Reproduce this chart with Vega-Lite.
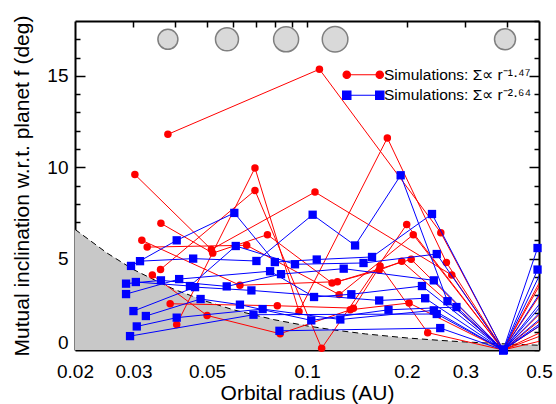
{
  "$schema": "https://vega.github.io/schema/vega-lite/v6.json",
  "width": 464,
  "height": 329,
  "autosize": {"type": "none"},
  "padding": {"left": 75, "top": 21, "right": 17, "bottom": 54},
  "background": "white",
  "config": {
    "view": {"stroke": null},
    "font": "Liberation Sans",
    "axis": {
      "labelFont": "Liberation Sans", "titleFont": "Liberation Sans",
      "labelFontSize": 19, "titleFontSize": 21, "titleFontWeight": "normal",
      "labelColor": "#000", "titleColor": "#000", "tickColor": "#000", "tickWidth": 1.5,
      "domainColor": "#000", "domainWidth": 2, "grid": false, "zindex": 1,
      "labelFlush": false, "labelOverlap": false
    }
  },
  "resolve": {"axis": {"x": "independent", "y": "independent"}},
  "datasets": {
    "bound": [
      {"a": 0.02, "i": 6.6}, {"a": 0.025, "i": 5.3}, {"a": 0.03, "i": 4.4}, {"a": 0.035, "i": 3.8},
      {"a": 0.04, "i": 3.3}, {"a": 0.05, "i": 2.65}, {"a": 0.06, "i": 2.2}, {"a": 0.07, "i": 1.9},
      {"a": 0.08, "i": 1.65}, {"a": 0.1, "i": 1.32}, {"a": 0.12, "i": 1.1}, {"a": 0.15, "i": 0.88},
      {"a": 0.2, "i": 0.66}, {"a": 0.25, "i": 0.53}, {"a": 0.3, "i": 0.44}, {"a": 0.4, "i": 0.33},
      {"a": 0.5, "i": 0.26}
    ],
    "planets": [
      {"a": 0.0381, "rp": 10}, {"a": 0.0574, "rp": 11.5}, {"a": 0.0865, "rp": 12.5},
      {"a": 0.1215, "rp": 12.8}, {"a": 0.395, "rp": 10.5}
    ],
    "sims": [
      {"m": "r147", "s": "r1", "a": 0.0381, "i": 11.8}, {"m": "r147", "s": "r1", "a": 0.109, "i": 15.36},
      {"m": "r147", "s": "r1", "a": 0.253, "i": 6.42}, {"m": "r147", "s": "r1", "a": 0.39, "i": 0},
      {"m": "r147", "s": "r1", "a": 0.65, "i": 7.5},
      {"m": "r147", "s": "r2", "a": 0.0303, "i": 9.6}, {"m": "r147", "s": "r2", "a": 0.0515, "i": 5.5},
      {"m": "r147", "s": "r2", "a": 0.1057, "i": 8.64}, {"m": "r147", "s": "r2", "a": 0.273, "i": 4.1},
      {"m": "r147", "s": "r2", "a": 0.39, "i": 0}, {"m": "r147", "s": "r2", "a": 0.65, "i": 6.02},
      {"m": "r147", "s": "r3", "a": 0.0405, "i": 1.4}, {"m": "r147", "s": "r3", "a": 0.0697, "i": 9.96},
      {"m": "r147", "s": "r3", "a": 0.0946, "i": 2.11}, {"m": "r147", "s": "r3", "a": 0.1746, "i": 11.6},
      {"m": "r147", "s": "r3", "a": 0.263, "i": 4.79}, {"m": "r147", "s": "r3", "a": 0.39, "i": 0},
      {"m": "r147", "s": "r3", "a": 0.65, "i": 7.15},
      {"m": "r147", "s": "r4", "a": 0.0362, "i": 4.41}, {"m": "r147", "s": "r4", "a": 0.0697, "i": 8.73},
      {"m": "r147", "s": "r4", "a": 0.1107, "i": 0.09}, {"m": "r147", "s": "r4", "a": 0.1997, "i": 6.87},
      {"m": "r147", "s": "r4", "a": 0.39, "i": 0}, {"m": "r147", "s": "r4", "a": 0.65, "i": 3.97},
      {"m": "r147", "s": "r5", "a": 0.0363, "i": 6.93}, {"m": "r147", "s": "r5", "a": 0.052, "i": 5.3},
      {"m": "r147", "s": "r5", "a": 0.076, "i": 6.31}, {"m": "r147", "s": "r5", "a": 0.119, "i": 3.66},
      {"m": "r147", "s": "r5", "a": 0.165, "i": 4.36}, {"m": "r147", "s": "r5", "a": 0.193, "i": 4.85},
      {"m": "r147", "s": "r5", "a": 0.39, "i": 0}, {"m": "r147", "s": "r5", "a": 0.65, "i": 3.23},
      {"m": "r147", "s": "r6", "a": 0.0318, "i": 6.0}, {"m": "r147", "s": "r6", "a": 0.0628, "i": 3.54},
      {"m": "r147", "s": "r6", "a": 0.1235, "i": 3.74}, {"m": "r147", "s": "r6", "a": 0.206, "i": 4.96},
      {"m": "r147", "s": "r6", "a": 0.39, "i": 0}, {"m": "r147", "s": "r6", "a": 0.65, "i": 2.65},
      {"m": "r147", "s": "r7", "a": 0.033, "i": 5.63}, {"m": "r147", "s": "r7", "a": 0.0658, "i": 5.73},
      {"m": "r147", "s": "r7", "a": 0.125, "i": 3.03}, {"m": "r147", "s": "r7", "a": 0.209, "i": 6.31},
      {"m": "r147", "s": "r7", "a": 0.39, "i": 0}, {"m": "r147", "s": "r7", "a": 0.65, "i": 1.89},
      {"m": "r147", "s": "r8", "a": 0.0342, "i": 4.1}, {"m": "r147", "s": "r8", "a": 0.05, "i": 1.89},
      {"m": "r147", "s": "r8", "a": 0.083, "i": 0.89}, {"m": "r147", "s": "r8", "a": 0.135, "i": 2.2},
      {"m": "r147", "s": "r8", "a": 0.203, "i": 2.57}, {"m": "r147", "s": "r8", "a": 0.39, "i": 0},
      {"m": "r147", "s": "r8", "a": 0.65, "i": 1.52},
      {"m": "r147", "s": "r9", "a": 0.0387, "i": 2.53}, {"m": "r147", "s": "r9", "a": 0.0814, "i": 2.42},
      {"m": "r147", "s": "r9", "a": 0.138, "i": 2.29}, {"m": "r147", "s": "r9", "a": 0.166, "i": 4.6},
      {"m": "r147", "s": "r9", "a": 0.231, "i": 0.95}, {"m": "r147", "s": "r9", "a": 0.39, "i": 0},
      {"m": "r147", "s": "r9", "a": 0.65, "i": 0.97},
      {"m": "r264", "s": "b1", "a": 0.0314, "i": 4.86}, {"m": "r264", "s": "b1", "a": 0.0454, "i": 5.0},
      {"m": "r264", "s": "b1", "a": 0.0704, "i": 4.87}, {"m": "r264", "s": "b1", "a": 0.104, "i": 7.4},
      {"m": "r264", "s": "b1", "a": 0.1396, "i": 5.72}, {"m": "r264", "s": "b1", "a": 0.1915, "i": 9.56},
      {"m": "r264", "s": "b1", "a": 0.265, "i": 2.67}, {"m": "r264", "s": "b1", "a": 0.39, "i": 0},
      {"m": "r264", "s": "b1", "a": 0.495, "i": 5.58},
      {"m": "r264", "s": "b2", "a": 0.0295, "i": 4.6}, {"m": "r264", "s": "b2", "a": 0.0405, "i": 6.0},
      {"m": "r264", "s": "b2", "a": 0.0604, "i": 7.5}, {"m": "r264", "s": "b2", "a": 0.08, "i": 4.81},
      {"m": "r264", "s": "b2", "a": 0.107, "i": 4.95}, {"m": "r264", "s": "b2", "a": 0.157, "i": 5.09},
      {"m": "r264", "s": "b2", "a": 0.238, "i": 7.44}, {"m": "r264", "s": "b2", "a": 0.39, "i": 0},
      {"m": "r264", "s": "b2", "a": 0.495, "i": 4.4},
      {"m": "r264", "s": "b3", "a": 0.0305, "i": 3.72}, {"m": "r264", "s": "b3", "a": 0.0444, "i": 3.5},
      {"m": "r264", "s": "b3", "a": 0.061, "i": 5.69}, {"m": "r264", "s": "b3", "a": 0.092, "i": 4.69},
      {"m": "r264", "s": "b3", "a": 0.148, "i": 4.76}, {"m": "r264", "s": "b3", "a": 0.246, "i": 5.25},
      {"m": "r264", "s": "b3", "a": 0.39, "i": 0}, {"m": "r264", "s": "b3", "a": 0.65, "i": 8.29},
      {"m": "r264", "s": "b4", "a": 0.0285, "i": 3.63}, {"m": "r264", "s": "b4", "a": 0.0363, "i": 3.81},
      {"m": "r264", "s": "b4", "a": 0.0573, "i": 3.48}, {"m": "r264", "s": "b4", "a": 0.0835, "i": 4.15},
      {"m": "r264", "s": "b4", "a": 0.129, "i": 4.45}, {"m": "r264", "s": "b4", "a": 0.241, "i": 3.81},
      {"m": "r264", "s": "b4", "a": 0.39, "i": 0}, {"m": "r264", "s": "b4", "a": 0.65, "i": 6.23},
      {"m": "r264", "s": "b5", "a": 0.0285, "i": 3.06}, {"m": "r264", "s": "b5", "a": 0.0412, "i": 3.88},
      {"m": "r264", "s": "b5", "a": 0.0774, "i": 4.31}, {"m": "r264", "s": "b5", "a": 0.105, "i": 2.9},
      {"m": "r264", "s": "b5", "a": 0.136, "i": 3.05}, {"m": "r264", "s": "b5", "a": 0.222, "i": 3.5},
      {"m": "r264", "s": "b5", "a": 0.39, "i": 0}, {"m": "r264", "s": "b5", "a": 0.65, "i": 5.1},
      {"m": "r264", "s": "b6", "a": 0.03, "i": 2.13}, {"m": "r264", "s": "b6", "a": 0.046, "i": 3.44},
      {"m": "r264", "s": "b6", "a": 0.068, "i": 3.26}, {"m": "r264", "s": "b6", "a": 0.165, "i": 2.71},
      {"m": "r264", "s": "b6", "a": 0.227, "i": 2.83}, {"m": "r264", "s": "b6", "a": 0.39, "i": 0},
      {"m": "r264", "s": "b6", "a": 0.65, "i": 4.71},
      {"m": "r264", "s": "b7", "a": 0.0327, "i": 1.86}, {"m": "r264", "s": "b7", "a": 0.0478, "i": 2.79},
      {"m": "r264", "s": "b7", "a": 0.0628, "i": 2.48}, {"m": "r264", "s": "b7", "a": 0.103, "i": 1.62},
      {"m": "r264", "s": "b7", "a": 0.176, "i": 2.2}, {"m": "r264", "s": "b7", "a": 0.282, "i": 2.35},
      {"m": "r264", "s": "b7", "a": 0.39, "i": 0}, {"m": "r264", "s": "b7", "a": 0.65, "i": 3.41},
      {"m": "r264", "s": "b8", "a": 0.0307, "i": 1.29}, {"m": "r264", "s": "b8", "a": 0.0405, "i": 1.77},
      {"m": "r264", "s": "b8", "a": 0.0735, "i": 2.24}, {"m": "r264", "s": "b8", "a": 0.126, "i": 1.67},
      {"m": "r264", "s": "b8", "a": 0.241, "i": 2.17}, {"m": "r264", "s": "b8", "a": 0.39, "i": 0},
      {"m": "r264", "s": "b8", "a": 0.65, "i": 4.11},
      {"m": "r264", "s": "b9", "a": 0.0293, "i": 0.76}, {"m": "r264", "s": "b9", "a": 0.069, "i": 1.93},
      {"m": "r264", "s": "b9", "a": 0.246, "i": 1.97}, {"m": "r264", "s": "b9", "a": 0.39, "i": 0},
      {"m": "r264", "s": "b9", "a": 0.65, "i": 2.88},
      {"m": "r264", "s": "b10", "a": 0.0826, "i": 1.05}, {"m": "r264", "s": "b10", "a": 0.252, "i": 1.2},
      {"m": "r264", "s": "b10", "a": 0.39, "i": 0}, {"m": "r264", "s": "b10", "a": 0.65, "i": 2.67}
    ]
  },
  "layer": [
    {
      "data": {"name": "bound"},
      "mark": {"type": "area", "color": "#c8c8c8", "opacity": 1},
      "encoding": {
        "x": {"field": "a", "type": "quantitative", "scale": {"type": "log", "domain": [0.02, 0.5], "nice": false},
          "axis": {"orient": "bottom", "values": [0.02, 0.03, 0.05, 0.1, 0.2, 0.3, 0.5],
            "format": ".2~f", "ticks": false, "labelPadding": 12,
            "title": "Orbital radius (AU)", "titlePadding": 1}},
        "y": {"field": "i", "type": "quantitative", "scale": {"domain": [0, 18], "nice": false, "zero": true},
          "axis": {"orient": "left", "values": [0, 5, 10, 15], "ticks": false,
            "labelOffset": {"condition": {"test": "datum.value === 0", "value": -8}, "value": 0},
            "labelPadding": 7, "title": "Mutual inclination w.r.t. planet f (deg)", "titlePadding": 14}}
      }
    },
    {
      "data": {"name": "bound"},
      "mark": {"type": "line", "color": "#000", "strokeWidth": 1, "strokeDash": [6, 4]},
      "encoding": {
        "x": {"field": "a", "type": "quantitative", "scale": {"type": "log", "domain": [0.02, 0.5], "nice": false}, "axis": null},
        "y": {"field": "i", "type": "quantitative", "scale": {"domain": [0, 18], "nice": false}, "axis": null}
      }
    },
    {
      "data": {"name": "sims"},
      "transform": [{"filter": "datum.m === 'r147'"}],
      "mark": {"type": "line", "strokeWidth": 1, "clip": true},
      "encoding": {
        "x": {"field": "a", "type": "quantitative", "scale": {"type": "log", "domain": [0.02, 0.5], "nice": false}, "axis": null},
        "y": {"field": "i", "type": "quantitative", "scale": {"domain": [0, 18], "nice": false}, "axis": null},
        "detail": {"field": "s"},
        "color": {"field": "m", "type": "nominal",
          "scale": {"domain": ["r147", "r264"], "range": ["#ff0000", "#0000ff"]},
          "legend": {
            "orient": "none", "legendX": 280.5, "legendY": 46, "title": null, "padding": 0,
            "symbolSize": 100, "symbolStrokeWidth": 1.2,
            "labelFont": "Liberation Sans", "labelFontSize": 15.5, "labelColor": "#000",
            "labelOffset": 13, "rowPadding": 3.5, "labelLimit": 300,
            "labelExpr": "datum.value === 'r147' ? 'Simulations: Σ∝ r⁻¹·⁴⁷' : 'Simulations: Σ∝ r⁻²·⁶⁴'",
            "encode": {"symbols": {"update": {
              "shape": {"signal": "datum.value === 'r147' ? 'M-3.3,0L3.3,0M-4.04,0A0.74,0.74 0 1,0 -2.56,0A0.74,0.74 0 1,0 -4.04,0ZM2.56,0A0.74,0.74 0 1,0 4.04,0A0.74,0.74 0 1,0 2.56,0Z' : 'M-3.3,0L3.3,0M-4.13,-0.83H-2.47V0.83H-4.13ZM2.47,-0.83H4.13V0.83H2.47Z'"},
              "fill": {"signal": "datum.value === 'r147' ? '#ff0000' : '#0000ff'"},
              "stroke": {"signal": "datum.value === 'r147' ? '#ff0000' : '#0000ff'"},
              "fillOpacity": {"value": 1}, "opacity": {"value": 1}
            }}}
          }}
      }
    },
    {
      "data": {"name": "sims"},
      "transform": [{"filter": "datum.m === 'r147' && datum.a <= 0.5"}],
      "mark": {"type": "point", "shape": "circle", "filled": true, "color": "#ff0000", "size": 56, "opacity": 1},
      "encoding": {
        "x": {"field": "a", "type": "quantitative", "scale": {"type": "log", "domain": [0.02, 0.5], "nice": false}, "axis": null},
        "y": {"field": "i", "type": "quantitative", "scale": {"domain": [0, 18], "nice": false}, "axis": null}
      }
    },
    {
      "data": {"name": "sims"},
      "transform": [{"filter": "datum.m === 'r264'"}],
      "mark": {"type": "line", "strokeWidth": 1, "clip": true},
      "encoding": {
        "x": {"field": "a", "type": "quantitative", "scale": {"type": "log", "domain": [0.02, 0.5], "nice": false}, "axis": null},
        "y": {"field": "i", "type": "quantitative", "scale": {"domain": [0, 18], "nice": false}, "axis": null},
        "detail": {"field": "s"},
        "color": {"field": "m", "type": "nominal", "scale": {"domain": ["r147", "r264"], "range": ["#ff0000", "#0000ff"]}}
      }
    },
    {
      "data": {"name": "sims"},
      "transform": [{"filter": "datum.m === 'r264' && datum.a <= 0.5"}],
      "mark": {"type": "point", "shape": "square", "filled": true, "color": "#0000ff", "size": 69, "opacity": 1},
      "encoding": {
        "x": {"field": "a", "type": "quantitative", "scale": {"type": "log", "domain": [0.02, 0.5], "nice": false}, "axis": null},
        "y": {"field": "i", "type": "quantitative", "scale": {"domain": [0, 18], "nice": false}, "axis": null}
      }
    },
    {
      "data": {"name": "planets"},
      "mark": {"type": "point", "shape": "circle", "filled": true, "fill": "#d9d9d9", "stroke": "#7f7f7f", "strokeWidth": 1.5, "opacity": 1},
      "encoding": {
        "x": {"field": "a", "type": "quantitative", "scale": {"type": "log", "domain": [0.02, 0.5], "nice": false}, "axis": null},
        "y": {"datum": 17, "type": "quantitative", "scale": {"domain": [0, 18], "nice": false}, "axis": null},
        "size": {"field": "rp", "type": "quantitative", "scale": {"type": "pow", "exponent": 2, "domain": [0, 14], "range": [0, 784]}, "legend": null}
      }
    },
    {
      "data": {"name": "bound"},
      "mark": {"type": "point", "opacity": 0},
      "encoding": {
        "x": {"field": "a", "type": "quantitative", "scale": {"type": "log", "domain": [0.02, 0.5], "nice": false},
          "axis": {"orient": "top", "offset": -329, "values": [0.03, 0.04, 0.05, 0.06, 0.07, 0.08, 0.09, 0.1, 0.2, 0.3, 0.4],
            "labels": false, "domain": false, "tickSize": 6, "title": null}},
        "y": {"field": "i", "type": "quantitative", "scale": {"domain": [0, 18], "nice": false},
          "axis": {"orient": "right", "offset": -464, "values": [5, 10, 15],
            "labels": false, "domain": false, "tickSize": 10, "title": null}}
      }
    },
    {
      "data": {"name": "bound"},
      "mark": {"type": "point", "opacity": 0},
      "encoding": {
        "x": {"field": "a", "type": "quantitative", "scale": {"type": "log", "domain": [0.02, 0.5], "nice": false},
          "axis": {"orient": "bottom", "offset": -329, "values": [0.03, 0.04, 0.05, 0.06, 0.07, 0.08, 0.09, 0.1, 0.2, 0.3, 0.4],
            "labels": false, "domain": true, "tickSize": 6, "title": null}},
        "y": {"field": "i", "type": "quantitative", "scale": {"domain": [0, 18], "nice": false},
          "axis": {"orient": "right", "offset": -464, "values": [1, 2, 3, 4, 6, 7, 8, 9, 11, 12, 13, 14, 16, 17],
            "labels": false, "domain": false, "tickSize": 5, "title": null}}
      }
    },
    {
      "data": {"name": "bound"},
      "mark": {"type": "point", "opacity": 0},
      "encoding": {
        "x": {"field": "a", "type": "quantitative", "scale": {"type": "log", "domain": [0.02, 0.5], "nice": false}, "axis": null},
        "y": {"field": "i", "type": "quantitative", "scale": {"domain": [0, 18], "nice": false},
          "axis": {"orient": "left", "offset": -464, "values": [5, 10, 15],
            "labels": false, "domain": false, "tickSize": 10, "title": null}}
      }
    },
    {
      "data": {"name": "bound"},
      "mark": {"type": "point", "opacity": 0},
      "encoding": {
        "x": {"field": "a", "type": "quantitative", "scale": {"type": "log", "domain": [0.02, 0.5], "nice": false}, "axis": null},
        "y": {"field": "i", "type": "quantitative", "scale": {"domain": [0, 18], "nice": false},
          "axis": {"orient": "left", "offset": -464, "values": [0, 1, 2, 3, 4, 6, 7, 8, 9, 11, 12, 13, 14, 16, 17, 18],
            "labels": false, "domain": true, "tickSize": 5, "title": null}}
      }
    }
  ]
}
